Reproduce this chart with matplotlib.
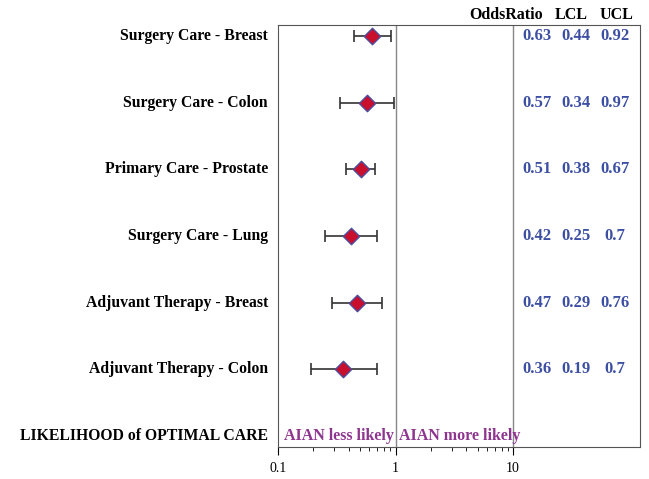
import matplotlib
matplotlib.use('Agg')
import matplotlib.pyplot as plt
from matplotlib.ticker import FixedLocator, FixedFormatter, NullFormatter

# data
labels = ['Surgery Care - Breast', 'Surgery Care - Colon', 'Primary Care - Prostate',
          'Surgery Care - Lung', 'Adjuvant Therapy - Breast', 'Adjuvant Therapy - Colon']
odds = [0.63, 0.57, 0.51, 0.42, 0.47, 0.36]
lcl = [0.44, 0.34, 0.38, 0.25, 0.29, 0.19]
ucl = [0.92, 0.97, 0.67, 0.70, 0.76, 0.70]
odds_txt = ['0.63', '0.57', '0.51', '0.42', '0.47', '0.36']
lcl_txt = ['0.44', '0.34', '0.38', '0.25', '0.29', '0.19']
ucl_txt = ['0.92', '0.97', '0.67', '0.7', '0.76', '0.7']
headers = ['OddsRatio', 'LCL', 'UCL']

plt.rcParams['font.family'] = ['Liberation Serif', 'DejaVu Serif']

W, H = 649, 479
L, R, T, B = 278, 640, 25, 447
fig = plt.figure(figsize=(W/100, H/100), dpi=100)
ax = fig.add_axes([L/W, 1 - B/H, (R-L)/W, (B-T)/H])

def ax_x(px):
    return (px - L) / (R - L)

n = len(labels)
ys = [n - i for i in range(n)]  # top row highest, footer row at 0

err_lo = [o - l for o, l in zip(odds, lcl)]
err_hi = [u - o for o, u in zip(odds, ucl)]
ax.errorbar(odds, ys, xerr=[err_lo, err_hi], fmt='none', ecolor='#333333',
            elinewidth=1.2, capsize=4, capthick=1.2, zorder=2)
ax.scatter(odds, ys, marker='D', s=70, color='#C8102E', edgecolor='#4A4FA0',
           linewidth=1.0, zorder=3)

ax.set_xscale('log')
ax.set_xlim(0.1, 120)
ax.set_ylim(-0.165, n + 0.165)
ax.axvline(1, color='#888888', lw=1)
ax.axvline(10, color='#888888', lw=1)

ax.xaxis.set_major_locator(FixedLocator([0.1, 1, 10]))
ax.xaxis.set_major_formatter(FixedFormatter(['0.1', '1', '10']))
minor = [m * d for d in (0.1, 1) for m in range(2, 10)]
ax.xaxis.set_minor_locator(FixedLocator(minor))
ax.xaxis.set_minor_formatter(NullFormatter())
ax.tick_params(axis='x', which='major', length=6, labelsize=10, pad=5)
ax.tick_params(axis='x', which='minor', length=3)
ax.set_yticks([])
for s in ax.spines.values():
    s.set_color('#555555')

# row labels
ytr = ax.get_yaxis_transform()
for y, lab in zip(ys, labels):
    ax.text(-10/(R-L), y, lab, transform=ytr, ha='right', va='center',
            fontsize=11.3, fontweight='bold')
ax.text(-10/(R-L), 0, 'LIKELIHOOD of OPTIMAL CARE', transform=ytr,
        ha='right', va='center', fontsize=11.3, fontweight='bold')

# stat columns
col_x = [ax_x(537), ax_x(576), ax_x(615)]
for y, a, b, c in zip(ys, odds_txt, lcl_txt, ucl_txt):
    for cx, t in zip(col_x, (a, b, c)):
        ax.text(cx, y, t, transform=ytr, ha='center', va='center',
                fontsize=12, fontweight='bold', color='#3C4FA3')
head_x = [ax_x(506), ax_x(571), ax_x(616)]
for cx, t in zip(head_x, headers):
    ax.text(cx, 1 + 10/(B-T), t, transform=ax.transAxes, ha='center', va='center',
            fontsize=11.5, fontweight='bold')

# direction labels
ax.text(0.113, 0, 'AIAN less likely', ha='left', va='center', fontsize=11.5,
        fontweight='bold', color='#8E3590')
ax.text(1.07, 0, 'AIAN more likely', ha='left', va='center', fontsize=11.5,
        fontweight='bold', color='#8E3590')

fig.savefig('out.png', dpi=100)
